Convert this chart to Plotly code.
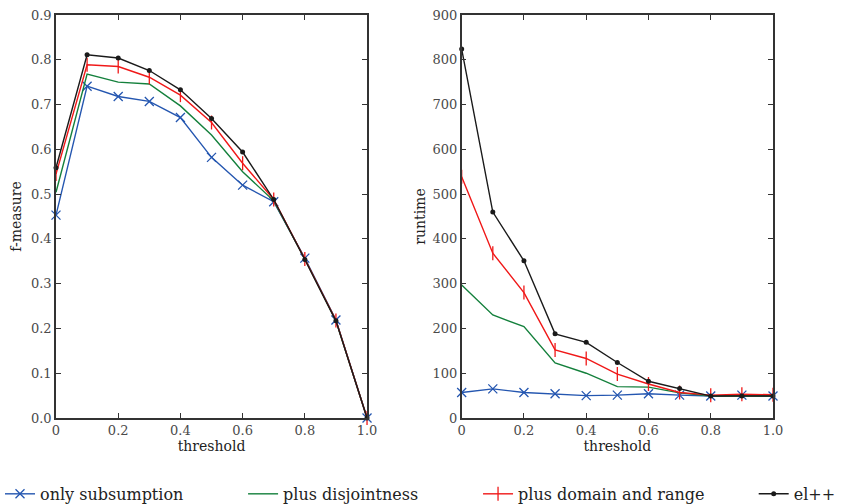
import plotly.graph_objects as go

# threshold values shared by both panels
thresholds = [0.0, 0.1, 0.2, 0.3, 0.4, 0.5, 0.6, 0.7, 0.8, 0.9, 1.0]

# f-measure per configuration
f_only_subsumption = [0.453, 0.741, 0.718, 0.707, 0.671, 0.582, 0.520, 0.483, 0.357, 0.219, 0.0]
f_plus_disjointness = [0.504, 0.768, 0.750, 0.746, 0.697, 0.632, 0.550, 0.485, 0.355, 0.217, 0.0]
f_plus_domain_range = [0.545, 0.789, 0.785, 0.761, 0.721, 0.660, 0.569, 0.488, 0.355, 0.218, 0.0]
f_el_pp = [0.559, 0.811, 0.804, 0.776, 0.733, 0.669, 0.594, 0.488, 0.354, 0.217, 0.0]

# runtime per configuration
rt_only_subsumption = [57, 65, 57, 54, 50, 51, 54, 51, 49, 51, 49]
rt_plus_disjointness = [297, 230, 204, 123, 100, 70, 69, 56, 49, 49, 49]
rt_plus_domain_range = [539, 368, 280, 152, 133, 98, 76, 57, 51, 53, 52]
rt_el_pp = [824, 460, 351, 188, 169, 124, 82, 66, 49, 49, 49]

series_names = ["only subsumption", "plus disjointness", "plus domain and range", "el++"]

x_tickvals = [0, 0.2, 0.4, 0.6, 0.8, 1.0]
x_ticktext = ["0", "0.2", "0.4", "0.6", "0.8", "1.0"]
f_tickvals = [0.0, 0.1, 0.2, 0.3, 0.4, 0.5, 0.6, 0.7, 0.8, 0.9]
f_ticktext = ["0.0", "0.1", "0.2", "0.3", "0.4", "0.5", "0.6", "0.7", "0.8", "0.9"]
rt_tickvals = [0, 100, 200, 300, 400, 500, 600, 700, 800, 900]
rt_ticktext = ["0", "100", "200", "300", "400", "500", "600", "700", "800", "900"]

colors = ["#2456b0", "#14803c", "#f01818", "#1a1a1a"]
styles = [
    dict(mode="lines+markers", marker=dict(symbol="x-thin-open", size=9, line=dict(width=1.3, color=colors[0]))),
    dict(mode="lines"),
    dict(mode="lines+markers", marker=dict(symbol="line-ns-open", size=10, line=dict(width=1.3, color=colors[2]))),
    dict(mode="lines+markers", marker=dict(symbol="circle", size=5, color=colors[3])),
]
# each series gets its own legend box so the entries can sit along the bottom edge
legend_ids = ["legend", "legend2", "legend3", "legend4"]
legend_x = [0.0, 0.288, 0.5664, 0.893]

fig = go.Figure()

f_series = [f_only_subsumption, f_plus_disjointness, f_plus_domain_range, f_el_pp]
rt_series = [rt_only_subsumption, rt_plus_disjointness, rt_plus_domain_range, rt_el_pp]

for i, name in enumerate(series_names):
    fig.add_trace(go.Scatter(
        x=thresholds, y=f_series[i], name=name, legendgroup=name, legend=legend_ids[i],
        line=dict(color=colors[i], width=1.4), xaxis="x", yaxis="y",
        cliponaxis=False, **styles[i]))
for i, name in enumerate(series_names):
    fig.add_trace(go.Scatter(
        x=thresholds, y=rt_series[i], name=name, legendgroup=name, showlegend=False,
        line=dict(color=colors[i], width=1.4), xaxis="x2", yaxis="y2",
        cliponaxis=False, **styles[i]))

font_family = "DejaVu Serif"
tick_font = dict(family=font_family, size=13, color="#4a4a4a")
title_font = dict(family=font_family, size=14, color="#222222")

axis_common = dict(
    showline=True, linecolor="#333333", linewidth=1.6, mirror="ticks",
    ticks="inside", ticklen=5, tickwidth=1.2, tickcolor="#333333",
    showgrid=False, zeroline=False, tickfont=tick_font, automargin=False,
)

legend_common = dict(
    orientation="h", xref="container", yref="container",
    xanchor="left", yanchor="middle", y=0.02,
    font=dict(family=font_family, size=16, color="#222222"),
    itemwidth=30, bgcolor="rgba(0,0,0,0)",
)

fig.update_layout(
    width=844, height=504,
    margin=dict(l=56, r=71, t=15, b=86, autoexpand=False),
    paper_bgcolor="white", plot_bgcolor="white",
    font=dict(family=font_family),
    xaxis=dict(domain=[0.0, 0.4338], range=[0, 1], tickvals=x_tickvals, ticktext=x_ticktext,
               title=dict(text="threshold", font=title_font, standoff=4), anchor="y", **axis_common),
    yaxis=dict(domain=[0.0, 1.0], range=[0, 0.9], tickvals=f_tickvals, ticktext=f_ticktext,
               title=dict(text="f-measure", font=title_font, standoff=6), anchor="x", **axis_common),
    xaxis2=dict(domain=[0.5658, 1.0], range=[0, 1], tickvals=x_tickvals, ticktext=x_ticktext,
                title=dict(text="threshold", font=title_font, standoff=4), anchor="y2", **axis_common),
    yaxis2=dict(domain=[0.0, 1.0], range=[0, 900], tickvals=rt_tickvals, ticktext=rt_ticktext,
                title=dict(text="runtime", font=title_font, standoff=4), anchor="x2", **axis_common),
    showlegend=True,
)
for lid, lx in zip(legend_ids, legend_x):
    fig.update_layout({lid: dict(x=lx, **legend_common)})

fig.write_html("out.html")
